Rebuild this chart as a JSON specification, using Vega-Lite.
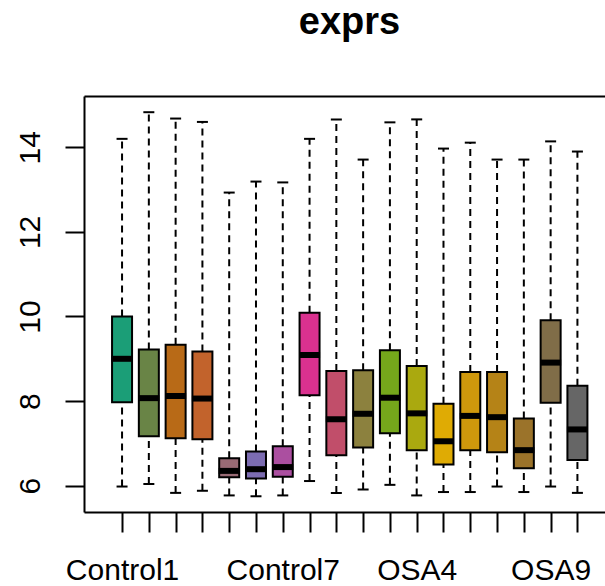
{
  "$schema": "https://vega.github.io/schema/vega-lite/v6.json",
  "width": 521,
  "height": 416,
  "autosize": {"type": "none"},
  "padding": {"left": 84, "top": 96, "right": 0, "bottom": 74},
  "background": "white",
  "config": {
    "view": {"stroke": null},
    "font": "Liberation Sans"
  },
  "title": {
    "text": "exprs",
    "fontSize": 38,
    "fontWeight": "bold",
    "font": "Liberation Sans",
    "color": "black",
    "anchor": "middle",
    "baseline": "alphabetic",
    "dx": 5,
    "offset": 24
  },
  "data": {
    "values": [
      {"pos": 1, "name": "Control1", "min": 5.98, "q1": 7.97, "median": 9.00, "q3": 10.00, "max": 14.20},
      {"pos": 2, "name": "Control2", "min": 6.04, "q1": 7.17, "median": 8.07, "q3": 9.22, "max": 14.83},
      {"pos": 3, "name": "Control3", "min": 5.83, "q1": 7.12, "median": 8.12, "q3": 9.33, "max": 14.68},
      {"pos": 4, "name": "Control4", "min": 5.88, "q1": 7.10, "median": 8.06, "q3": 9.17, "max": 14.60},
      {"pos": 5, "name": "Control5", "min": 5.77, "q1": 6.20, "median": 6.35, "q3": 6.65, "max": 12.93},
      {"pos": 6, "name": "Control6", "min": 5.75, "q1": 6.17, "median": 6.39, "q3": 6.81, "max": 13.19},
      {"pos": 7, "name": "Control7", "min": 5.77, "q1": 6.21, "median": 6.44, "q3": 6.93, "max": 13.17},
      {"pos": 8, "name": "Control8", "min": 6.11, "q1": 8.14, "median": 9.09, "q3": 10.09, "max": 14.20},
      {"pos": 9, "name": "OSA1", "min": 5.83, "q1": 6.72, "median": 7.57, "q3": 8.71, "max": 14.66},
      {"pos": 10, "name": "OSA2", "min": 5.91, "q1": 6.90, "median": 7.70, "q3": 8.73, "max": 13.71},
      {"pos": 11, "name": "OSA3", "min": 6.02, "q1": 7.24, "median": 8.08, "q3": 9.20, "max": 14.59},
      {"pos": 12, "name": "OSA4", "min": 5.77, "q1": 6.84, "median": 7.71, "q3": 8.83, "max": 14.66},
      {"pos": 13, "name": "OSA5", "min": 5.85, "q1": 6.50, "median": 7.05, "q3": 7.94, "max": 13.97},
      {"pos": 14, "name": "OSA6", "min": 5.85, "q1": 6.84, "median": 7.65, "q3": 8.69, "max": 14.11},
      {"pos": 15, "name": "OSA7", "min": 5.98, "q1": 6.79, "median": 7.62, "q3": 8.69, "max": 13.71},
      {"pos": 16, "name": "OSA8", "min": 5.85, "q1": 6.41, "median": 6.84, "q3": 7.59, "max": 13.71},
      {"pos": 17, "name": "OSA9", "min": 5.98, "q1": 7.96, "median": 8.91, "q3": 9.91, "max": 14.14},
      {"pos": 18, "name": "OSA10", "min": 5.83, "q1": 6.61, "median": 7.33, "q3": 8.36, "max": 13.90}
    ]
  },
  "resolve": {"axis": {"x": "independent", "y": "independent"}},
  "layer": [
    {
      "mark": {"type": "rule", "strokeDash": [7, 5], "strokeWidth": 2, "color": "black"},
      "encoding": {
        "x": {
          "field": "pos", "type": "quantitative",
          "scale": {"domain": [-0.234, 18.843], "nice": false, "zero": false},
          "axis": {
            "orient": "bottom",
            "title": null,
            "values": [1,2,3,4,5,6,7,8,9,10,11,12,13,14,15,16,17,18],
            "labelExpr": "datum.value == 1 ? 'Control1' : datum.value == 7 ? 'Control7' : datum.value == 12 ? 'OSA4' : datum.value == 17 ? 'OSA9' : ''",
            "labelOverlap": false,
            "labelFontSize": 30,
            "labelColor": "black",
            "labelBaseline": "alphabetic",
            "labelPadding": 47,
            "tickSize": 20,
            "tickWidth": 2,
            "tickColor": "black",
            "domainColor": "black",
            "domainWidth": 2,
            "grid": false
          }
        },
        "y": {
          "field": "q3", "type": "quantitative",
          "scale": {"domain": [5.378, 15.213], "nice": false, "zero": false},
          "axis": {
            "orient": "left",
            "title": null,
            "values": [6, 8, 10, 12, 14],
            "labelFontSize": 30,
            "labelColor": "black",
            "labelAngle": -90,
            "labelAlign": "center",
            "labelBaseline": "alphabetic",
            "labelPadding": 26,
            "tickSize": 19,
            "tickWidth": 2,
            "tickColor": "black",
            "domainColor": "black",
            "domainWidth": 2,
            "grid": false
          }
        },
        "y2": {"field": "max"}
      }
    },
    {
      "mark": {"type": "rule", "strokeDash": [7, 5], "strokeWidth": 2, "color": "black"},
      "encoding": {
        "x": {"field": "pos", "type": "quantitative",
          "axis": {"orient": "top", "title": null, "ticks": false, "labels": false, "grid": false, "domainColor": "black", "domainWidth": 2}},
        "y": {"field": "min", "type": "quantitative", "axis": null},
        "y2": {"field": "q1"}
      }
    },
    {
      "mark": {"type": "tick", "orient": "horizontal", "size": 11, "thickness": 2, "color": "black", "opacity": 1},
      "encoding": {
        "x": {"field": "pos", "type": "quantitative", "axis": null},
        "y": {"field": "max", "type": "quantitative", "axis": null}
      }
    },
    {
      "mark": {"type": "tick", "orient": "horizontal", "size": 11, "thickness": 2, "color": "black", "opacity": 1},
      "encoding": {
        "x": {"field": "pos", "type": "quantitative", "axis": null},
        "y": {"field": "min", "type": "quantitative", "axis": null}
      }
    },
    {
      "mark": {"type": "bar", "orient": "vertical", "size": 20, "stroke": "black", "strokeWidth": 2, "opacity": 1},
      "encoding": {
        "x": {"field": "pos", "type": "quantitative", "axis": null},
        "y": {"field": "q1", "type": "quantitative", "axis": null},
        "y2": {"field": "q3"},
        "color": {
          "field": "name", "type": "nominal", "legend": null,
          "scale": {
            "domain": ["Control1","Control2","Control3","Control4","Control5","Control6","Control7","Control8","OSA1","OSA2","OSA3","OSA4","OSA5","OSA6","OSA7","OSA8","OSA9","OSA10"],
            "range": ["#1B9E77","#698446","#B86A17","#C2632C","#986A74","#7C6CB1","#AB4FA0","#DA318F","#C14E6A","#8C813E","#75A71B","#AAA90F","#DFAB04","#CF980C","#B58317","#9B732A","#806D48","#666666"]
          }
        }
      }
    },
    {
      "mark": {"type": "tick", "orient": "horizontal", "size": 21, "thickness": 6, "color": "black", "opacity": 1},
      "encoding": {
        "x": {"field": "pos", "type": "quantitative", "axis": null},
        "y": {"field": "median", "type": "quantitative", "axis": null}
      }
    }
  ]
}
